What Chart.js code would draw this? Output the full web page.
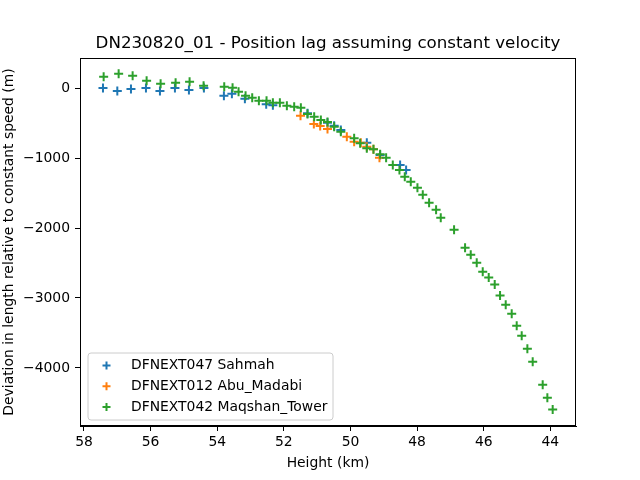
<!DOCTYPE html>
<html lang="en">
<head>
  <meta charset="UTF-8">
  <title>DN230820_01 - Position lag</title>
  <script src="https://cdn.jsdelivr.net/npm/chart.js"></script>
  <style>
    html, body { margin: 0; padding: 0; background: #fff; }
    #wrap { width: 640px; height: 480px; }
  </style>
</head>
<body>
  <div id="wrap"><canvas id="lagChart" width="640" height="480"></canvas></div>

  <script>
    // Height (km) and deviation (m)
    const sahmahHeight = [57.43, 57.0, 56.59, 56.14, 55.72, 55.27, 54.85, 54.4, 53.8, 53.56, 53.17,
      52.53, 52.33, 51.29, 50.69, 50.49, 50.29, 49.51, 49.11, 48.51, 48.33];
    const sahmahDev = [0, -43, -14, 0, -43, 0, -29, 0, -110, -81, -153,
      -233, -247, -362, -495, -540, -600, -781, -957, -1100, -1171];

    const abuHeight = [51.5, 51.1, 50.91, 50.69, 50.11, 49.89, 49.69, 49.51, 49.31, 49.13];
    const abuDev = [-396, -514, -543, -586, -695, -766, -781, -838, -876, -995];

    const maqHeight = [57.41, 56.96, 56.54, 56.12, 55.7, 55.25, 54.83, 54.41, 53.79, 53.54, 53.36,
      53.15, 52.95, 52.75, 52.52, 52.33, 52.12, 51.91, 51.69, 51.49, 51.29, 51.09, 50.89, 50.69,
      50.49, 50.29, 49.89, 49.71, 49.51, 49.31, 49.11, 48.93, 48.73, 48.53, 48.37, 48.19, 47.99,
      47.83, 47.64, 47.43, 47.29, 46.89, 46.56, 46.39, 46.21, 46.03, 45.85, 45.67, 45.51, 45.34,
      45.16, 45.01, 44.86, 44.69, 44.53, 44.23, 44.09, 43.93];
    const maqDev = [161, 204, 176, 104, 61, 76, 90, 33, 19, 5, -52,
      -110, -138, -181, -181, -210, -210, -253, -267, -281, -371, -410, -457, -486,
      -552, -624, -719, -790, -862, -876, -948, -995, -1100, -1171, -1267, -1338, -1424,
      -1524, -1638, -1738, -1852, -2024, -2281, -2381, -2495, -2624, -2709, -2809, -2966, -3095,
      -3224, -3395, -3538, -3724, -3910, -4238, -4424, -4595];

    const xTicks = [58, 56, 54, 52, 50, 48, 46, 44];
    const yTicks = [-4000, -3000, -2000, -1000, 0];

    function toPoints(xs, ys) {
      return xs.map((x, i) => ({ x: x, y: ys[i] }));
    }

    const FONT = 'DejaVu Sans';

    // frame around the plot area + title + legend box (matplotlib look)
    const decorations = {
      id: 'decorations',
      afterDraw(chart) {
        const ctx = chart.ctx;
        const a = chart.chartArea;
        ctx.save();
        ctx.strokeStyle = '#000';
        ctx.lineWidth = 1;
        ctx.strokeRect(a.left + 0.5, a.top + 0.5, a.right - a.left - 1, a.bottom - a.top - 1);

        ctx.fillStyle = '#000';
        ctx.font = '16.7px ' + FONT;
        ctx.textAlign = 'center';
        ctx.textBaseline = 'middle';
        ctx.fillText('DN230820_01 - Position lag assuming constant velocity', (a.left + a.right) / 2, 44);

        // legend
        const lx = 88, ly = 353, lw = 245, lh = 67, r = 3;
        ctx.beginPath();
        ctx.moveTo(lx + r, ly);
        ctx.arcTo(lx + lw, ly, lx + lw, ly + lh, r);
        ctx.arcTo(lx + lw, ly + lh, lx, ly + lh, r);
        ctx.arcTo(lx, ly + lh, lx, ly, r);
        ctx.arcTo(lx, ly, lx + lw, ly, r);
        ctx.closePath();
        ctx.fillStyle = 'rgba(255,255,255,0.8)';
        ctx.fill();
        ctx.strokeStyle = '#cccccc';
        ctx.stroke();

        ctx.font = '13.9px ' + FONT;
        ctx.textAlign = 'left';
        chart.data.datasets.forEach((ds, i) => {
          const cy = 365.5 + i * 20.8;
          ctx.strokeStyle = ds.borderColor;
          ctx.lineWidth = 2;
          ctx.beginPath();
          ctx.moveTo(102.5, cy); ctx.lineTo(110.5, cy);
          ctx.moveTo(106.5, cy - 4); ctx.lineTo(106.5, cy + 4);
          ctx.stroke();
          ctx.fillStyle = '#000';
          ctx.fillText(ds.label, 131, cy);
        });
        ctx.restore();
      }
    };

    function makeSet(label, color, xs, ys, order) {
      return {
        label: label,
        data: toPoints(xs, ys),
        borderColor: color,
        backgroundColor: color,
        pointStyle: 'cross',
        pointRadius: 4.5,
        pointHoverRadius: 4.5,
        borderWidth: 2,
        order: order
      };
    }

    const ctx = document.getElementById('lagChart').getContext('2d');
    const chart = new Chart(ctx, {
      type: 'scatter',
      data: {
        datasets: [
          makeSet('DFNEXT047 Sahmah', '#1f77b4', sahmahHeight, sahmahDev, 3),
          makeSet('DFNEXT012 Abu_Madabi', '#ff7f0e', abuHeight, abuDev, 2),
          makeSet('DFNEXT042 Maqshan_Tower', '#2ca02c', maqHeight, maqDev, 1)
        ]
      },
      options: {
        responsive: false,
        animation: false,
        layout: { padding: { top: 58, right: 64, left: 0, bottom: 0 } },
        plugins: {
          legend: { display: false },
          tooltip: { enabled: false },
          title: { display: false }
        },
        scales: {
          x: {
            type: 'linear',
            reverse: true,
            min: 43.23,
            max: 58.12,
            afterFit: s => { s.height = 54; },
            afterBuildTicks: s => { s.ticks = xTicks.map(v => ({ value: v })); },
            grid: { drawOnChartArea: false, drawTicks: true, tickLength: 5, color: '#000', tickWidth: 1 },
            border: { display: true, color: '#000' },
            ticks: { color: '#000', font: { family: FONT, size: 13.9 }, padding: 3, maxRotation: 0 },
            title: { display: true, text: 'Height (km)', color: '#000', font: { family: FONT, size: 13.9 }, padding: { top: 4, bottom: 8 } }
          },
          y: {
            type: 'linear',
            min: -4829,
            max: 429,
            afterFit: s => { s.width = 80; },
            afterBuildTicks: s => { s.ticks = yTicks.map(v => ({ value: v })); },
            grid: { drawOnChartArea: false, drawTicks: true, tickLength: 5, color: '#000', tickWidth: 1 },
            border: { display: true, color: '#000' },
            ticks: {
              color: '#000',
              font: { family: FONT, size: 13.9 },
              padding: 5,
              callback: v => String(v).replace('-', '\u2212')
            },
            title: { display: true, text: 'Deviation in length relative to constant speed (m)', color: '#000', font: { family: FONT, size: 13.9 }, padding: { top: 1, bottom: 4 } }
          }
        }
      },
      plugins: [decorations]
    });
  </script>
</body>
</html>
